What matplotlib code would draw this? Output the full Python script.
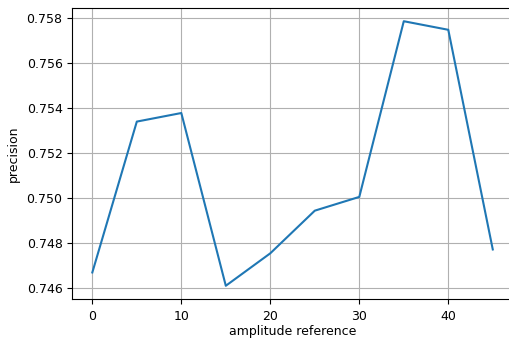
import matplotlib
matplotlib.use("Agg")
import matplotlib.pyplot as plt

amplitude = [0, 5, 10, 15, 20, 25, 30, 35, 40, 45]
precision = [0.74671, 0.75340, 0.75378, 0.74612, 0.74756, 0.74945,
             0.75006, 0.75785, 0.75747, 0.74773]

plt.rcParams['font.size'] = 9.0
fig = plt.figure(figsize=(5.09, 3.38), dpi=100)
W, H = 509, 338
ax = fig.add_axes([72.3 / W, 39 / H, 440.5 / W, 291 / H])
ax.plot(amplitude, precision, color='#1f77b4', linewidth=1.5)
ax.grid(True, color='#b0b0b0', linewidth=0.8)
ax.set_xlabel('amplitude reference', labelpad=2.0)
ax.set_ylabel('precision', labelpad=5)
ax.set_xticks([0, 10, 20, 30, 40])
ax.set_yticks([0.746, 0.748, 0.750, 0.752, 0.754, 0.756, 0.758])
ax.yaxis.set_major_formatter(matplotlib.ticker.FormatStrFormatter('%.3f'))
ax.tick_params(axis='x', pad=4.2)
fig.savefig('out.png', dpi=100)
